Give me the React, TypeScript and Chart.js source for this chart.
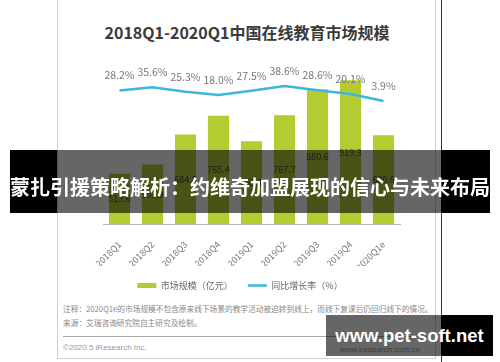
import React, { useEffect, useRef } from 'react';
import { Chart, registerables } from 'chart.js';

Chart.register(...registerables);

const categories = ['2018Q1', '2018Q2', '2018Q3', '2018Q4', '2019Q1', '2019Q2', '2019Q3', '2019Q4', '2020Q1e'];
const marketSize = [513.6, 553.9, 684.8, 765.4, 655.1, 767.7, 880.6, 919.3, 680.6];
const growthRate = [28.2, 35.6, 25.3, 18.0, 27.5, 38.6, 28.6, 20.1, 3.9];
const seriesNames = ['市场规模（亿元）', '同比增长率（%）'];
const titleText = '2018Q1-2020Q1中国在线教育市场规模';
const noteLines = [
  '注释：2020Q1e的市场规模不包含原来线下场景的教学活动被迫转到线上，而线下复课后仍回归线下的情况。',
  '来源：艾瑞咨询研究院自主研究及绘制。',
];
const footerLeft = '©2020.5 iResearch Inc.';
const footerRight = 'www.iresearch.com.cn';
const bannerText = '蒙扎引援策略解析：约维奇加盟展现的信心与未来布局';
const watermarkText = 'www.pet-soft.net';

const BAR_COLOR = '#b4cc32';
const LINE_COLOR = '#3cb6da';
const CJK = '"Noto Sans CJK SC", "Noto Sans", sans-serif';

const valueLabelPlugin = {
  id: 'valueLabels',
  afterDatasetsDraw(chart: any) {
    const ctx = chart.ctx;
    const bottom = chart.chartArea.bottom;
    ctx.save();
    ctx.textAlign = 'center';
    ctx.textBaseline = 'middle';
    const barMeta = chart.getDatasetMeta(0);
    ctx.font = `9px ${CJK}`;
    ctx.fillStyle = '#4a4a4a';
    barMeta.data.forEach((el: any, i: number) => {
      const p = el.getProps(['x', 'y'], true);
      ctx.fillText(marketSize[i].toFixed(1), p.x, (p.y + bottom) / 2);
    });
    const lineMeta = chart.getDatasetMeta(1);
    ctx.font = `10.5px ${CJK}`;
    ctx.fillStyle = '#777777';
    lineMeta.data.forEach((el: any, i: number) => {
      const p = el.getProps(['x', 'y'], true);
      ctx.fillText(growthRate[i].toFixed(1) + '%', p.x, p.y - 15);
    });
    ctx.restore();
  },
};

function ChartCanvas() {
  const ref = useRef<HTMLCanvasElement | null>(null);
  useEffect(() => {
    if (!ref.current) return;
    const chart = new Chart(ref.current, {
      type: 'bar',
      data: {
        labels: categories,
        datasets: [
          {
            type: 'bar',
            label: seriesNames[0],
            data: marketSize,
            backgroundColor: BAR_COLOR,
            borderWidth: 0,
            barPercentage: 0.8,
            categoryPercentage: 0.8,
            yAxisID: 'y',
            order: 2,
          },
          {
            type: 'line',
            label: seriesNames[1],
            data: growthRate,
            borderColor: LINE_COLOR,
            backgroundColor: LINE_COLOR,
            borderWidth: 2.5,
            pointRadius: 0,
            tension: 0,
            yAxisID: 'y1',
            order: 1,
          },
        ] as any,
      },
      options: {
        responsive: false,
        maintainAspectRatio: false,
        animation: false,
        devicePixelRatio: 1,
        layout: { padding: { top: 60, bottom: 0, left: 0, right: 0 } },
        plugins: {
          tooltip: { enabled: false },
          title: { display: false },
          legend: {
            display: true,
            position: 'bottom',
            labels: {
              usePointStyle: true,
              pointStyleWidth: 19,
              boxHeight: 5,
              padding: 15,
              color: '#666666',
              font: { size: 9, family: CJK },
              generateLabels: () => [
                {
                  text: seriesNames[0],
                  fillStyle: BAR_COLOR,
                  strokeStyle: BAR_COLOR,
                  lineWidth: 0,
                  pointStyle: 'rect',
                  hidden: false,
                  datasetIndex: 0,
                  fontColor: '#666666',
                },
                {
                  text: seriesNames[1],
                  fillStyle: LINE_COLOR,
                  strokeStyle: LINE_COLOR,
                  lineWidth: 2.5,
                  pointStyle: 'line',
                  hidden: false,
                  datasetIndex: 1,
                  fontColor: '#666666',
                },
              ],
            },
          } as any,
        },
        scales: {
          x: {
            offset: true,
            grid: { display: false, drawTicks: false },
            border: { display: true, color: '#b8b8b8', width: 1 },
            ticks: {
              minRotation: 45,
              maxRotation: 45,
              padding: 15,
              color: '#7a7a7a',
              font: { size: 9, family: CJK },
            },
            afterFit: (scale: any) => {
              scale.height = 42;
            },
          },
          y: {
            position: 'left',
            min: 296,
            max: 1007.5,
            grid: { display: false },
            border: { display: false },
            ticks: { display: false },
            afterFit: (scale: any) => {
              scale.width = 103;
            },
          },
          y1: {
            position: 'right',
            min: -280.6,
            max: 98.75,
            grid: { display: false },
            border: { display: false },
            ticks: { display: false },
            afterFit: (scale: any) => {
              scale.width = 80;
            },
          },
        },
      } as any,
      plugins: [valueLabelPlugin],
    });
    return () => chart.destroy();
  }, []);
  return (
    <canvas
      ref={ref}
      width={480}
      height={300}
      style={{ position: 'absolute', left: 0, top: 0, width: 480, height: 300, display: 'block' }}
    />
  );
}

export default function App() {
  const abs: React.CSSProperties = { position: 'absolute' };
  return (
    <div
      style={{
        position: 'absolute',
        left: 0,
        top: 0,
        width: 500,
        height: 362,
        overflow: 'hidden',
        background: '#ffffff',
        fontFamily: CJK,
      }}
    >
      <div style={{ ...abs, left: 57, top: -1, width: 377, height: 358, border: '1px solid #cfcfcf' }} />
      <div style={{ ...abs, left: 441, top: 0, width: 1, height: 362, background: '#333333' }} />
      <div
        style={{
          ...abs,
          left: 0,
          top: 22,
          width: 494,
          textAlign: 'center',
          fontSize: 16,
          lineHeight: '20px',
          fontWeight: 700,
          color: '#3a3a3a',
          whiteSpace: 'nowrap',
        }}
      >
        {titleText}
      </div>
      <ChartCanvas />
      <div style={{ ...abs, left: 63, top: 304, fontSize: 7.7, lineHeight: '10px', color: '#888888', whiteSpace: 'nowrap' }}>
        {noteLines[0]}
      </div>
      <div style={{ ...abs, left: 63, top: 318, fontSize: 7.7, lineHeight: '10px', color: '#888888', whiteSpace: 'nowrap' }}>
        {noteLines[1]}
      </div>
      <div style={{ ...abs, left: 63, top: 336, width: 367, height: 1, background: '#a8a8a8' }} />
      <div
        style={{
          ...abs,
          left: 63,
          top: 343,
          fontSize: 8,
          lineHeight: '10px',
          color: '#999999',
          whiteSpace: 'nowrap',
          fontFamily: '"Liberation Sans", sans-serif',
        }}
      >
        {footerLeft}
      </div>
      <div
        style={{
          ...abs,
          right: 80,
          top: 345,
          fontSize: 8,
          lineHeight: '10px',
          color: '#999999',
          whiteSpace: 'nowrap',
          fontFamily: '"Liberation Sans", sans-serif',
        }}
      >
        {footerRight}
      </div>
      <div style={{ ...abs, left: 10, top: 150, width: 47, height: 63, background: '#000000' }} />
      <div style={{ ...abs, left: 57, top: 150, width: 384, height: 63, background: 'rgba(0,0,0,0.6)' }} />
      <div style={{ ...abs, left: 441, top: 150, width: 49, height: 63, background: '#000000' }} />
      <div
        style={{
          ...abs,
          left: 10,
          top: 175,
          width: 480,
          textAlign: 'center',
          fontSize: 20,
          lineHeight: '24px',
          fontWeight: 700,
          color: '#ffffff',
          whiteSpace: 'nowrap',
        }}
      >
        {bannerText}
      </div>
      <div style={{ ...abs, left: 326, top: 315, width: 115, height: 41, background: 'rgba(0,0,0,0.6)' }} />
      <div style={{ ...abs, left: 441, top: 315, width: 52, height: 41, background: '#000000' }} />
      <div
        style={{
          ...abs,
          left: 326,
          top: 325,
          width: 167,
          textAlign: 'center',
          fontSize: 18.5,
          lineHeight: '22px',
          fontWeight: 700,
          color: '#ffffff',
          whiteSpace: 'nowrap',
          fontFamily: '"Liberation Sans", sans-serif',
        }}
      >
        {watermarkText}
      </div>
    </div>
  );
}
